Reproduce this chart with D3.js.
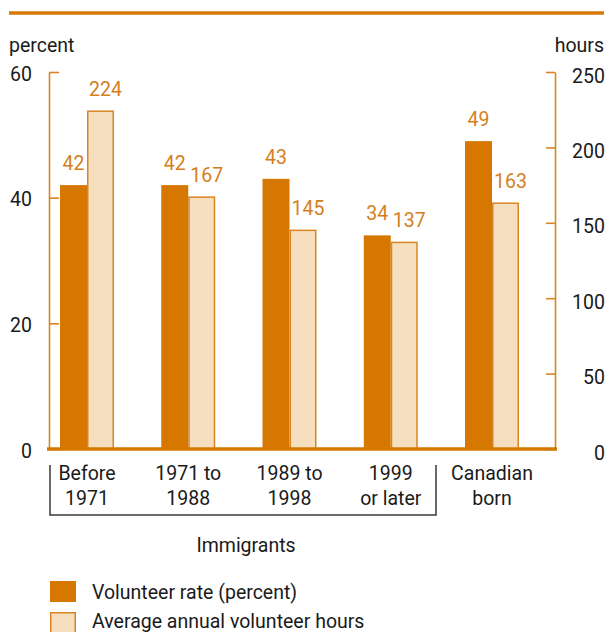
<!DOCTYPE html>
<html>
<head>
<meta charset="utf-8">
<script src="https://cdn.jsdelivr.net/npm/d3@7"></script>
<style>
  body { margin: 0; background: #fff; }
  svg text { font-family: Roboto, "Liberation Sans", sans-serif; font-size: 19.5px; fill: #1a1a1a; }
</style>
</head>
<body>
<svg width="608" height="632"></svg>
<script>
var categories = ["Before 1971", "1971 to 1988", "1989 to 1998", "1999 or later", "Canadian born"];
var catLines = [["Before", "1971"], ["1971 to", "1988"], ["1989 to", "1998"], ["1999", "or later"], ["Canadian", "born"]];
var volunteerRate = [42, 42, 43, 34, 49];
var annualHours = [224, 167, 145, 137, 163];
var percentTicks = [0, 20, 40, 60];
var hoursTicks = [0, 50, 100, 150, 200, 250];

var dark = "#d67800", light = "#f5dfbf", axisCol = "#d98526", labelCol = "#d47f1c";

var svg = d3.select("svg");

// top rule
svg.append("line")
    .attr("x1", 9).attr("x2", 604).attr("y1", 13).attr("y2", 13)
    .attr("stroke", dark).attr("stroke-width", 3.5);

var x = d3.scaleBand()
    .domain(categories)
    .range([60, 519])
    .paddingInner(0.467)
    .paddingOuter(0);

var sub = d3.scaleBand()
    .domain(["rate", "hours"])
    .range([0, x.bandwidth()]);

var yL = d3.scaleLinear().domain([0, 60]).range([449, 72]);
var yR = d3.scaleLinear().domain([0, 250]).range([449, 72]);

// axis titles
svg.append("text").attr("x", 9).attr("y", 52).text("percent");
svg.append("text").attr("x", 604).attr("y", 52).attr("text-anchor", "end").text("hours");

// left axis
var gL = svg.append("g").attr("transform", "translate(49,0)")
    .call(d3.axisLeft(yL).tickValues(percentTicks).tickSizeInner(-10).tickSizeOuter(0).tickPadding(17));
gL.select(".domain").attr("stroke", axisCol).attr("stroke-width", 1.6);
gL.selectAll(".tick line").attr("stroke", axisCol).attr("stroke-width", 1.6);
gL.selectAll(".tick text").attr("fill", "#1a1a1a").attr("dy", "0.42em");
gL.attr("font-family", null).attr("font-size", null);

// right axis
var gR = svg.append("g").attr("transform", "translate(555,0)")
    .call(d3.axisRight(yR).tickValues(hoursTicks).tickSizeInner(-9).tickSizeOuter(0));
gR.select(".domain").attr("stroke", axisCol).attr("stroke-width", 1.6);
gR.selectAll(".tick line").attr("stroke", axisCol).attr("stroke-width", 1.6);
gR.selectAll(".tick text").attr("text-anchor", "end").attr("x", 50).attr("fill", "#1a1a1a").attr("dy", "0.52em");
gR.attr("font-family", null).attr("font-size", null);

// bars
var groups = svg.append("g").selectAll("g")
    .data(categories)
    .join("g")
    .attr("transform", function(d) { return "translate(" + x(d) + ",0)"; });

groups.append("rect")
    .attr("x", sub("rate"))
    .attr("width", sub.bandwidth())
    .attr("y", function(d, i) { return yL(volunteerRate[i]); })
    .attr("height", function(d, i) { return yL(0) - yL(volunteerRate[i]); })
    .attr("fill", dark);

groups.append("rect")
    .attr("x", sub("hours") + 0.75)
    .attr("width", sub.bandwidth() - 1.5)
    .attr("y", function(d, i) { return yR(annualHours[i]); })
    .attr("height", function(d, i) { return yR(0) - yR(annualHours[i]); })
    .attr("fill", light)
    .attr("stroke", axisCol)
    .attr("stroke-width", 1.5);

groups.append("text")
    .attr("x", sub("rate") + sub.bandwidth() / 2)
    .attr("y", function(d, i) { return yL(volunteerRate[i]) - 15; })
    .attr("text-anchor", "middle")
    .style("fill", labelCol)
    .text(function(d, i) { return volunteerRate[i]; });

groups.append("text")
    .attr("x", sub("hours") + sub.bandwidth() / 2 + 5)
    .attr("y", function(d, i) { return yR(annualHours[i]) - 15; })
    .attr("text-anchor", "middle")
    .style("fill", labelCol)
    .text(function(d, i) { return annualHours[i]; });

// baseline
svg.append("line")
    .attr("x1", 47).attr("x2", 557).attr("y1", 449).attr("y2", 449)
    .attr("stroke", dark).attr("stroke-width", 3.4);

// category labels
groups.append("text")
    .attr("x", x.bandwidth() / 2)
    .attr("y", 480)
    .attr("text-anchor", "middle")
    .text(function(d, i) { return catLines[i][0]; });
groups.append("text")
    .attr("x", x.bandwidth() / 2)
    .attr("y", 505)
    .attr("text-anchor", "middle")
    .text(function(d, i) { return catLines[i][1]; });

// immigrants bracket
svg.append("path")
    .attr("d", "M50,465V515H436V465")
    .attr("fill", "none")
    .attr("stroke", "#3a3a3a")
    .attr("stroke-width", 1.5);
svg.append("text").attr("x", 246).attr("y", 552).attr("text-anchor", "middle").text("Immigrants");

// legend
svg.append("rect").attr("x", 50).attr("y", 581).attr("width", 26).attr("height", 21).attr("fill", dark);
svg.append("rect").attr("x", 50.75).attr("y", 612.75).attr("width", 24.5).attr("height", 20)
    .attr("fill", light).attr("stroke", axisCol).attr("stroke-width", 1.5);
svg.append("text").attr("x", 92).attr("y", 599).text("Volunteer rate (percent)");
svg.append("text").attr("x", 92).attr("y", 628).text("Average annual volunteer hours");
</script>
</body>
</html>
